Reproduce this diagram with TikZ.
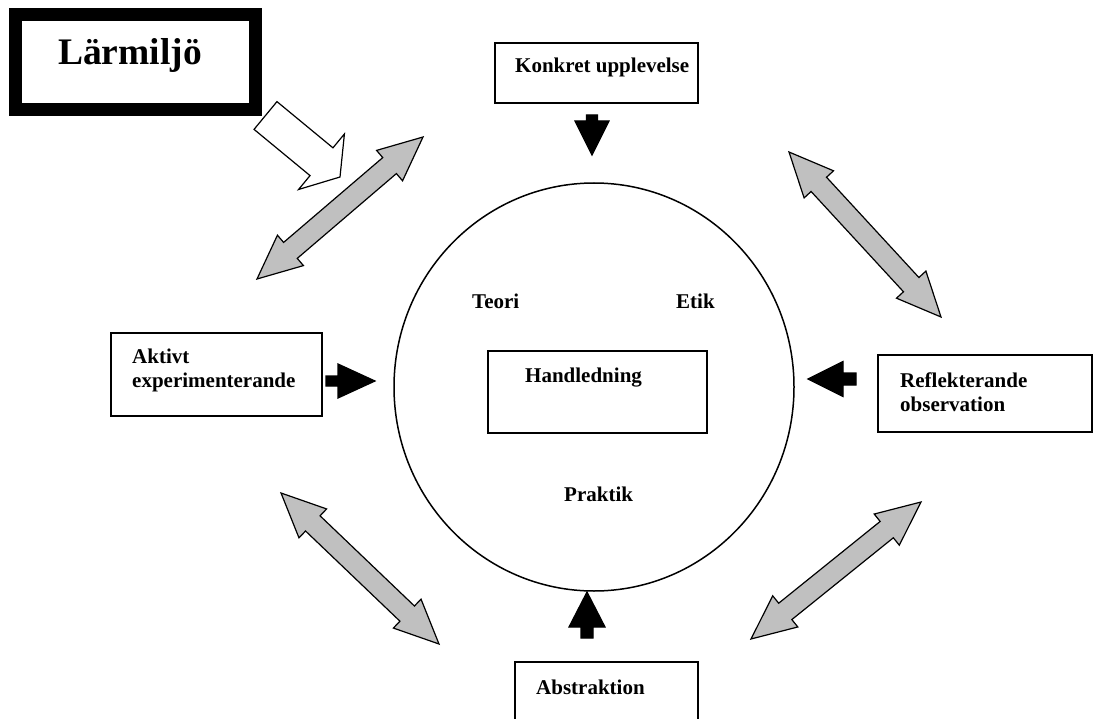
\documentclass[tikz,border=0pt]{standalone}
\usepackage{fontspec}
\setmainfont{Liberation Serif}
\usetikzlibrary{calc,fit,shapes.geometric}
\definecolor{arrgray}{RGB}{192,192,192}
\tikzset{
  box/.style={draw, line width=1.5pt, inner sep=0pt, fit={#1}},
  lbl/.style={anchor=base west, inner sep=0pt, font=\fontsize{21}{24}\selectfont\bfseries},
}
% single block arrow: tail, tip, head length, head half width, shaft half width, fill
\newcommand\blockarrow[6]{%
  \coordinate (hb) at ($(#2)!#3!(#1)$);
  \filldraw[fill=#6, draw=black, line width=1.2pt, line join=miter]
    ($(#1)!#5!90:(#2)$) -- ($(hb)!#5!90:(#2)$) -- ($(hb)!#4!90:(#2)$) -- (#2)
    -- ($(hb)!#4!-90:(#2)$) -- ($(hb)!#5!-90:(#2)$) -- ($(#1)!#5!-90:(#2)$) -- cycle;}
% double block arrow between two tips
\newcommand\dblarrow[2]{%
  \coordinate (pa) at ($(#1)!44pt!(#2)$);
  \coordinate (pb) at ($(#2)!44pt!(#1)$);
  \filldraw[fill=arrgray, draw=black, line width=1.2pt, line join=miter]
    (#1) -- ($(pa)!20pt!90:(#2)$) -- ($(pa)!10.5pt!90:(#2)$) -- ($(pb)!10.5pt!90:(#2)$)
    -- ($(pb)!20pt!90:(#2)$) -- (#2) -- ($(pb)!20pt!-90:(#2)$) -- ($(pb)!10.5pt!-90:(#2)$)
    -- ($(pa)!10.5pt!-90:(#2)$) -- ($(pa)!20pt!-90:(#2)$) -- cycle;}
\begin{document}
\begin{tikzpicture}[x=1pt,y=-1pt]
\clip (0,0) rectangle (1094,719);
\fill[white] (0,0) rectangle (1094,719);

% main circle
\node[draw, line width=1.5pt, ellipse, minimum width=400pt, minimum height=408pt, inner sep=0pt] (circ) at (594,387) {};

% boxes
\node[draw, line width=13pt, inner sep=0pt, fit={(15.5,14.5) (255,110)}] (larm) {};
\node[box={(495,43) (698,103)}] (konk) {};
\node[box={(111,333) (322,416)}] (akt) {};
\node[box={(488,351) (707,433)}] (hand) {};
\node[box={(878,355) (1092,432)}] (refl) {};
\node[box={(515,662) (698,740)}] (abst) {};

% texts
\node[anchor=base west, inner sep=0pt, font=\fontsize{37.5}{40}\selectfont\bfseries] (tlarm) at (58,65) {Lärmiljö};
\node[lbl] (tkonk) at (515,73) {Konkret upplevelse};
\node[lbl] (takt1) at (132,363) {Aktivt};
\node[lbl] (takt2) at (132,387) {experimenterande};
\node[lbl] (trefl1) at (900,387) {Reflekterande};
\node[lbl] (trefl2) at (900,411) {observation};
\node[lbl] (thand) at (525,382) {Handledning};
\node[lbl] (tteori) at (472,308) {Teori};
\node[lbl] (tetik) at (676,308) {Etik};
\node[lbl] (tprak) at (564,501) {Praktik};
\node[lbl] (tabst) at (536,694) {Abstraktion};

% coordinates for arrows
\coordinate (kT) at (592,115);  \coordinate (kP) at (592,155);
\coordinate (aT) at (326,381);  \coordinate (aP) at (375,381);
\coordinate (rT) at (856,379);  \coordinate (rP) at (808,379);
\coordinate (bT) at (587,638);  \coordinate (bP) at (587,592);
\coordinate (wT) at (265.5,115.5); \coordinate (wP) at (340,177);

\blockarrow{kT}{kP}{34pt}{17pt}{5.5pt}{black}
\blockarrow{aT}{aP}{37pt}{17pt}{5pt}{black}
\blockarrow{rT}{rP}{35pt}{17.5pt}{6pt}{black}
\blockarrow{bT}{bP}{35pt}{18pt}{6pt}{black}
\blockarrow{wT}{wP}{24pt}{36pt}{18pt}{white}

% gray double arrows
\coordinate (g1a) at (257,279); \coordinate (g1b) at (423,137);
\coordinate (g2a) at (789,152); \coordinate (g2b) at (941,317);
\coordinate (g3a) at (281,493); \coordinate (g3b) at (439,644);
\coordinate (g4a) at (751,639); \coordinate (g4b) at (921,502);
\dblarrow{g1a}{g1b}
\dblarrow{g2a}{g2b}
\dblarrow{g3a}{g3b}
\dblarrow{g4a}{g4b}
\end{tikzpicture}
\end{document}
